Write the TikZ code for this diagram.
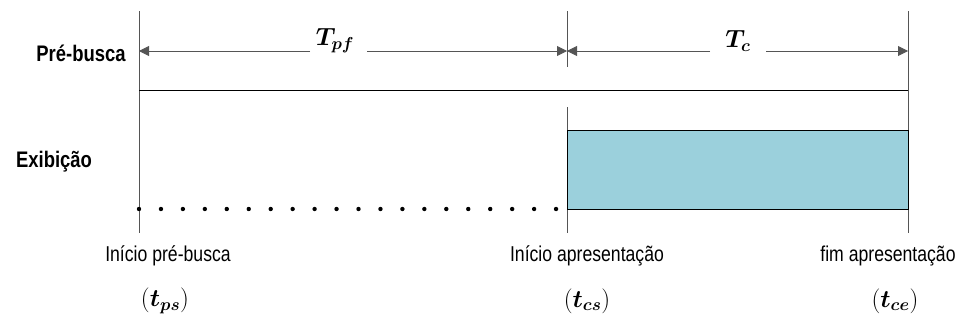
\documentclass[tikz,border=0pt]{standalone}
\usepackage{fontspec}
\setmainfont{Liberation Sans}[FakeStretch=0.82]
\usepackage{amsmath,bm}
\usetikzlibrary{arrows.meta}
\definecolor{boxfill}{HTML}{9BD0DC}
\definecolor{lgray}{HTML}{555555}
\tikzset{
  vline/.style={draw=lgray, line width=0.9pt},
  dimline/.style={draw=lgray, line width=0.9pt},
  tip/.style={-{Triangle[length=10pt,width=10pt]}},
  rowlabel/.style={font=\bfseries\fontsize{22.5}{26}\selectfont, inner sep=0pt},
  tlabel/.style={font=\fontsize{21.5}{25}\selectfont, inner sep=0pt},
  mlabel/.style={font=\fontsize{23}{26}\selectfont, inner sep=0pt},
  dotmark/.style={circle, fill=black, inner sep=0pt, minimum size=4.4pt}
}
\begin{document}
\begin{tikzpicture}[x=1pt,y=-1pt]
\useasboundingbox (0,0) rectangle (968,324);
% vertical time lines
\coordinate (a1) at (139,11); \coordinate (a2) at (139,233);
\coordinate (b1) at (567,11); \coordinate (b2) at (567,67);
\coordinate (b3) at (567,107); \coordinate (b4) at (567,233);
\coordinate (c1) at (908,11); \coordinate (c2) at (908,233);
\draw[vline] (a1) -- (a2);
\draw[vline] (b1) -- (b2);
\draw[vline] (b3) -- (b4);
\draw[vline] (c1) -- (c2);
% dimension arrows
\node[mlabel] (Tpf) at (335,41) {$\boldsymbol{T_{pf}}$};
\node[mlabel] (Tc) at (738,41) {$\boldsymbol{T_{c}}$};
\coordinate (pfL) at (310,51); \coordinate (pfR) at (367,51);
\coordinate (cL) at (710,51); \coordinate (cR) at (766,51);
\draw[dimline,tip] (pfL) -- (139,51);
\draw[dimline,tip] (pfR) -- (567,51);
\draw[dimline,tip] (cL) -- (567,51);
\draw[dimline,tip] (cR) -- (908,51);
% pre-fetch line
\coordinate (pL) at (139,90); \coordinate (pR) at (908,90);
\draw[line width=1pt] (pL) -- (pR);
% display box
\node[draw=black, line width=1pt, fill=boxfill, minimum width=341pt, minimum height=79pt, inner sep=0pt, anchor=north west] (box) at (567,130) {};
% dots
\foreach \i in {0,...,19} {
  \node[dotmark] (d\i) at ({139+\i*21.95},209) {};
}
% row labels
\node[rowlabel] (pre) at (81,53) {Pré-busca};
\node[rowlabel] (exi) at (54,162) {Exibição};
% time labels
\node[tlabel] (t1) at (168,256) {Início pré-busca};
\node[tlabel] (t2) at (587,256) {Início apresentação};
\node[tlabel] (t3) at (888,256) {fim apresentação};
\node[mlabel] (m1) at (165,301) {$(\boldsymbol{t_{ps}})$};
\node[mlabel] (m2) at (587,301) {$(\boldsymbol{t_{cs}})$};
\node[mlabel] (m3) at (895,301) {$(\boldsymbol{t_{ce}})$};
\end{tikzpicture}
\end{document}
